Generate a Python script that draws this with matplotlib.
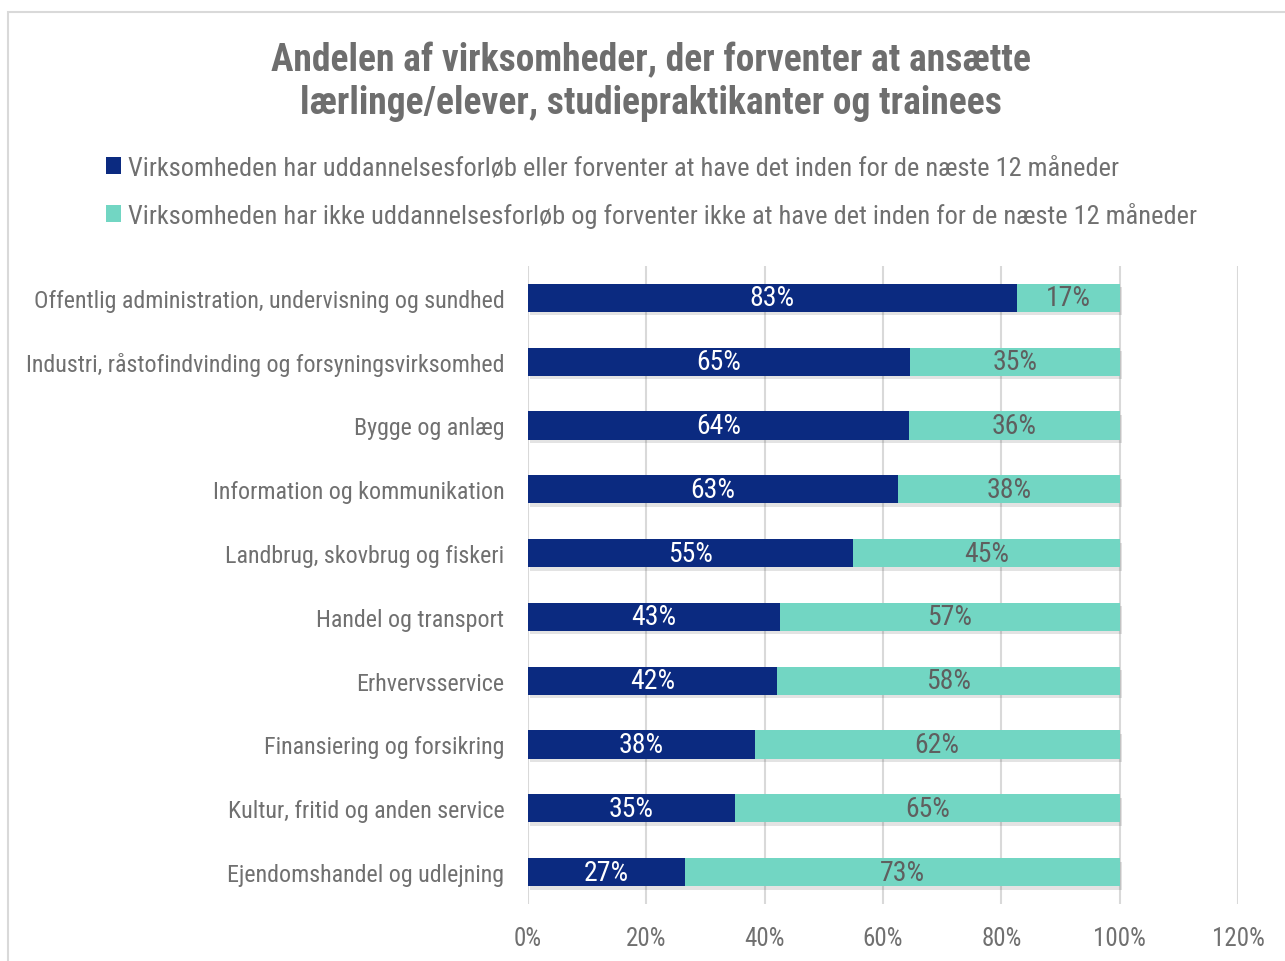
import matplotlib
matplotlib.use('Agg')
import matplotlib.pyplot as plt
import matplotlib.patheffects as pe
from matplotlib import font_manager
from matplotlib.patches import Rectangle, Patch

# Pick a narrow font if one is installed, otherwise Roboto
names = {f.name for f in font_manager.fontManager.ttflist}
font = 'Roboto Condensed' if 'Roboto Condensed' in names else 'Roboto'
plt.rcParams['font.family'] = [font, 'DejaVu Sans']

# Data
categories = [
    'Offentlig administration, undervisning og sundhed',
    'Industri, råstofindvinding og forsyningsvirksomhed',
    'Bygge og anlæg',
    'Information og kommunikation',
    'Landbrug, skovbrug og fiskeri',
    'Handel og transport',
    'Erhvervsservice',
    'Finansiering og forsikring',
    'Kultur, fritid og anden service',
    'Ejendomshandel og udlejning',
]
har_forloeb = [82.6, 64.6, 64.4, 62.5, 54.9, 42.6, 42.1, 38.3, 35.0, 26.6]
ikke_forloeb = [17.4, 35.4, 35.6, 37.5, 45.1, 57.4, 57.9, 61.7, 65.0, 73.4]
series_names = [
    'Virksomheden har uddannelsesforløb eller forventer at have det inden for de næste 12 måneder',
    'Virksomheden har ikke uddannelsesforløb og forventer ikke at have det inden for de næste 12 måneder',
]
x_ticks = [0, 20, 40, 60, 80, 100, 120]

dark = '#0b2a80'
light = '#72d6c3'
grey_text = '#707070'

fig = plt.figure(figsize=(12.85, 9.62), dpi=100)

# Chart frame
fig.patches.append(Rectangle((8 / 1285, -0.1), 1.1, 1 - 13 / 962 + 0.1, transform=fig.transFigure,
                             fill=False, edgecolor='#d9d9d9', linewidth=1.5))

ax = fig.add_axes([528 / 1285, 1 - 905 / 962, (1238 - 528) / 1285, (905 - 267) / 962])

y = list(range(len(categories)))
shadow = [pe.SimplePatchShadow(offset=(1.5, -2.5), alpha=0.15, shadow_rgbFace='#444444'), pe.Normal()]
b1 = ax.barh(y, har_forloeb, height=0.44, color=dark, zorder=3)
b2 = ax.barh(y, ikke_forloeb, left=har_forloeb, height=0.44, color=light, zorder=3)
for bar in list(b1) + list(b2):
    bar.set_path_effects(shadow)

for i in y:
    ax.text(har_forloeb[i] / 2, i, f'{int(har_forloeb[i] + 0.5)}%', ha='center', va='center',
            color='white', fontsize=20, zorder=4)
    ax.text(har_forloeb[i] + ikke_forloeb[i] / 2, i, f'{int(ikke_forloeb[i] + 0.5)}%', ha='center',
            va='center', color='#5f5f5f', fontsize=20, zorder=4)

ax.set_xlim(0, 120)
ax.set_ylim(len(categories) - 0.5, -0.5)
ax.set_xticks(x_ticks)
ax.set_xticklabels([f'{t}%' for t in x_ticks])
ax.set_yticks(y)
ax.set_yticklabels(categories)
ax.tick_params(axis='both', length=0, labelcolor=grey_text)
ax.tick_params(axis='y', pad=17, labelsize=17.3)
ax.tick_params(axis='x', pad=16, labelsize=18)
ax.grid(axis='x', color='#d9d9d9', linewidth=1.5, zorder=0)
for s in ax.spines.values():
    s.set_visible(False)

fig.text(651 / 1285, 1 - 82 / 962,
         'Andelen af virksomheder, der forventer at ansætte\nlærlinge/elever, studiepraktikanter og trainees',
         ha='center', va='center', fontsize=27, fontweight='bold', color='#6e6e6e', linespacing=1.2)

handles = [Patch(facecolor=dark), Patch(facecolor=light)]
fig.legend(handles, series_names, loc='upper left', bbox_to_anchor=(95 / 1285, 1 - 146 / 962),
           frameon=False, fontsize=19, labelcolor=grey_text, handlelength=0.6, handleheight=0.6,
           handletextpad=0.25, labelspacing=0.85, borderaxespad=0)

fig.savefig('out.png', dpi=100)
